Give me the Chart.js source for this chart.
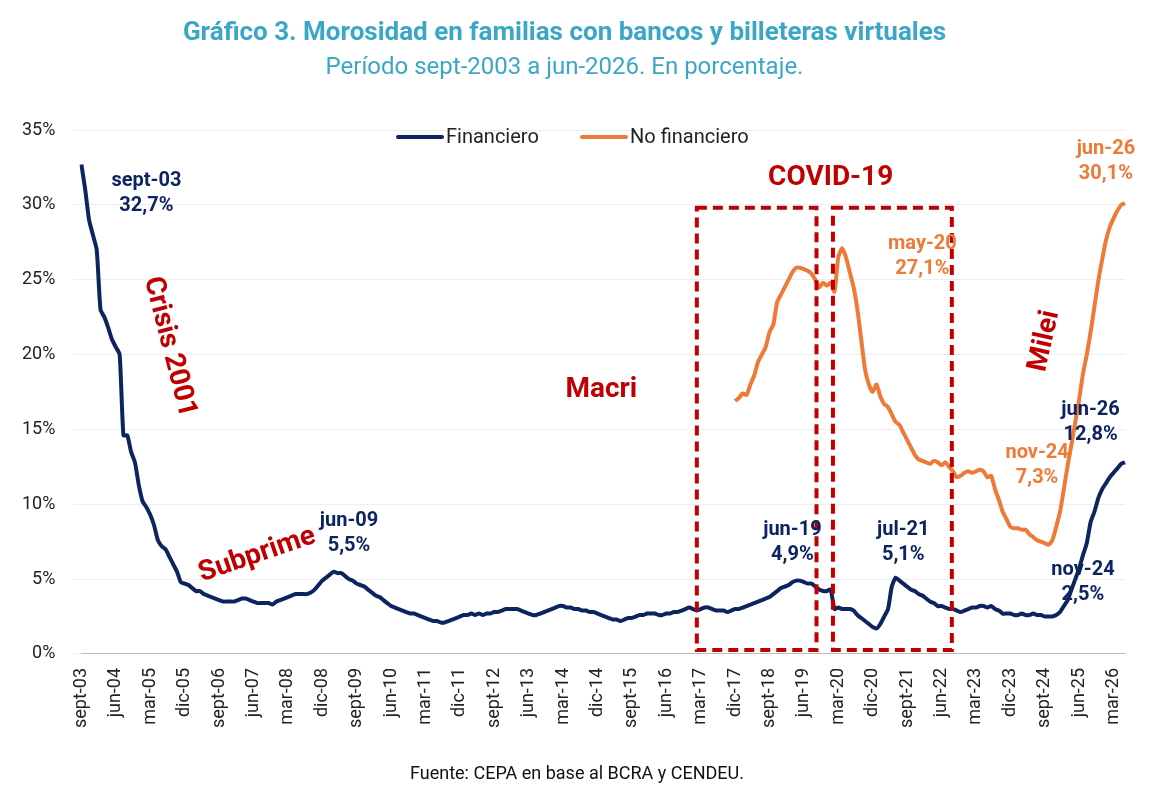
<!DOCTYPE html>
<html><head><meta charset="utf-8">
<script src="https://cdn.jsdelivr.net/npm/chart.js@4"></script>
<style>body{margin:0;background:#fff}#wrap{width:1155px;height:812px}</style>
</head><body><div id="wrap"><canvas id="c"></canvas></div>
<script>
// monthly, sept-2003 .. jun-2026
const meses = ["ene","feb","mar","abr","may","jun","jul","ago","sept","oct","nov","dic"];
const financiero = [
  32.7, 31.0, 29.0, 28.0,
  27.0, 23.0, 22.5, 21.8, 21.0, 20.5, 20.0, 14.6, 14.6, 13.5, 12.8, 11.3,
  10.2, 9.8, 9.3, 8.6, 7.6, 7.2, 7.0, 6.5, 6.0, 5.5, 4.8, 4.7,
  4.6, 4.4, 4.2, 4.2, 4.0, 3.9, 3.8, 3.7, 3.6, 3.5, 3.5, 3.5,
  3.5, 3.6, 3.7, 3.7, 3.6, 3.5, 3.4, 3.4, 3.4, 3.4, 3.3, 3.5,
  3.6, 3.7, 3.8, 3.9, 4.0, 4.0, 4.0, 4.0, 4.1, 4.3, 4.6, 4.9,
  5.1, 5.3, 5.5, 5.4, 5.4, 5.2, 5.0, 4.9, 4.7, 4.6, 4.5, 4.3,
  4.1, 3.9, 3.8, 3.6, 3.4, 3.2, 3.1, 3.0, 2.9, 2.8, 2.7, 2.7,
  2.6, 2.5, 2.4, 2.3, 2.2, 2.2, 2.1, 2.1, 2.2, 2.3, 2.4, 2.5,
  2.6, 2.6, 2.7, 2.6, 2.7, 2.6, 2.7, 2.7, 2.8, 2.8, 2.9, 3.0,
  3.0, 3.0, 3.0, 2.9, 2.8, 2.7, 2.6, 2.6, 2.7, 2.8, 2.9, 3.0,
  3.1, 3.2, 3.2, 3.1, 3.1, 3.0, 3.0, 2.9, 2.9, 2.8, 2.8, 2.7,
  2.6, 2.5, 2.4, 2.3, 2.3, 2.2, 2.3, 2.4, 2.4, 2.5, 2.6, 2.6,
  2.7, 2.7, 2.7, 2.6, 2.6, 2.7, 2.7, 2.8, 2.8, 2.9, 3.0, 3.1,
  3.0, 2.9, 3.0, 3.1, 3.1, 3.0, 2.9, 2.9, 2.9, 2.8, 2.9, 3.0,
  3.0, 3.1, 3.2, 3.3, 3.4, 3.5, 3.6, 3.7, 3.8, 4.0, 4.2, 4.4,
  4.5, 4.6, 4.8, 4.9, 4.9, 4.8, 4.7, 4.7, 4.5, 4.3, 4.2, 4.2,
  4.3, 3.0, 3.1, 3.0, 3.0, 3.0, 2.9, 2.6, 2.4, 2.2, 2.0, 1.8,
  1.7, 2.0, 2.5, 3.0, 4.5, 5.1, 4.9, 4.7, 4.5, 4.3, 4.2, 4.0,
  3.9, 3.7, 3.5, 3.4, 3.2, 3.2, 3.1, 3.0, 3.0, 2.9, 2.8, 2.9,
  3.0, 3.1, 3.1, 3.2, 3.2, 3.1, 3.2, 3.0, 2.9, 2.7, 2.7, 2.7,
  2.6, 2.6, 2.7, 2.6, 2.6, 2.7, 2.6, 2.6, 2.5, 2.5, 2.5, 2.6,
  2.8, 3.2, 3.6, 4.3, 5.0, 5.7, 6.6, 7.4, 8.8, 9.5, 10.4, 11.0,
  11.4, 11.8, 12.1, 12.4, 12.7, 12.8
];
// starts dic-2017
const noFinancieroInicio = 171;
const noFinanciero = [
  16.9,
  17.1, 17.4, 17.3, 18.0, 18.6, 19.5, 20.0, 20.5, 21.5, 22.0, 23.5, 24.0,
  24.5, 25.0, 25.5, 25.8, 25.8, 25.7, 25.6, 25.4, 25.0, 24.5, 24.8, 24.6,
  24.8, 24.2, 26.5, 27.1, 26.5, 25.5, 24.5, 23.0, 21.0, 19.0, 18.0, 17.5,
  18.0, 17.2, 16.7, 16.5, 16.0, 15.5, 15.3, 14.8, 14.3, 13.8, 13.3, 13.0,
  12.9, 12.8, 12.7, 12.9, 12.8, 12.6, 12.8, 12.5, 12.2, 11.8, 11.9, 12.1,
  12.2, 12.1, 12.2, 12.3, 12.2, 11.8, 11.9, 11.0, 10.3, 9.5, 9.0, 8.5,
  8.4, 8.4, 8.3, 8.3, 8.0, 7.8, 7.6, 7.5, 7.4, 7.3, 7.6, 8.5,
  9.5, 11.0, 12.6, 14.0, 15.5, 17.0, 18.7, 20.0, 21.5, 23.2, 24.9, 26.3,
  27.6, 28.5, 29.1, 29.6, 30.0, 30.1
];
const labels = financiero.map((_, i) => {
  const m = (8 + i) % 12, y = 3 + Math.floor((8 + i) / 12);
  return meses[m] + "-" + String(y).padStart(2, "0");
});
const noFin = labels.map((_, i) => i >= noFinancieroInicio ? noFinanciero[i - noFinancieroInicio] : null);

const AZUL = "#0d2461", NARANJA = "#ee7a37", ROJO = "#c00000";
// [index, value, text lines, color]
const notas = [
  [17, 31.6, ["sept-03", "32,7%"], AZUL],
  [70, 8.9, ["jun-09", "5,5%"], AZUL],
  [186, 8.3, ["jun-19", "4,9%"], AZUL],
  [215, 8.3, ["jul-21", "5,1%"], AZUL],
  [262, 5.6, ["nov-24", "2,5%"], AZUL],
  [264, 16.3, ["jun-26", "12,8%"], AZUL],
  [250, 13.4, ["nov-24", "7,3%"], NARANJA],
  [220, 27.4, ["may-20", "27,1%"], NARANJA],
  [268, 33.7, ["jun-26", "30,1%"], NARANJA]
];

const extras = {
  id: "extras",
  afterDatasetsDraw(chart) {
    const { ctx, scales: { x, y } } = chart;
    ctx.save();
    // cajas
    ctx.strokeStyle = ROJO; ctx.lineWidth = 4; ctx.setLineDash([10, 6]);
    [[161, 192.3], [196.6, 227.7]].forEach(([a, b]) => {
      ctx.strokeRect(x.getPixelForValue(a), y.getPixelForValue(29.8), x.getPixelForValue(b) - x.getPixelForValue(a), y.getPixelForValue(0) - y.getPixelForValue(29.8) - 4);
    });
    ctx.setLineDash([]);
    ctx.textAlign = "center"; ctx.textBaseline = "middle";
    ctx.font = "bold 20px Roboto";
    notas.forEach(([i, v, t, c]) => {
      ctx.fillStyle = c;
      ctx.fillText(t[0], x.getPixelForValue(i), y.getPixelForValue(v));
      ctx.fillText(t[1], x.getPixelForValue(i), y.getPixelForValue(v) + 25);
    });
    ctx.fillStyle = ROJO; ctx.font = "bold 28px Roboto";
    ctx.fillText("COVID-19", x.getPixelForValue(196), y.getPixelForValue(31.8));
    ctx.fillText("Macri", x.getPixelForValue(136), y.getPixelForValue(17.6));
    const rot = (txt, i, v, ang) => {
      ctx.save(); ctx.translate(x.getPixelForValue(i), y.getPixelForValue(v));
      ctx.rotate(ang); ctx.fillText(txt, 0, 0); ctx.restore();
    };
    rot("Crisis 2001", 23, 20.5, Math.PI * 0.42);
    rot("Subprime", 46, 6.6, -0.33);
    rot("Milei", 252, 20.9, -Math.PI * 0.43);
    // leyenda
    ctx.textAlign = "left"; ctx.font = "20px Roboto"; ctx.fillStyle = "#222";
    ctx.lineWidth = 4; ctx.lineCap = "round";
    [[398, AZUL, "Financiero"], [582, NARANJA, "No financiero"]].forEach(([lx, c, t]) => {
      ctx.strokeStyle = c; ctx.beginPath(); ctx.moveTo(lx, 137); ctx.lineTo(lx + 44, 137); ctx.stroke();
      ctx.fillText(t, lx + 48, 138);
    });
    // fuente
    ctx.textAlign = "center"; ctx.font = "18px Roboto"; ctx.fillStyle = "#111";
    ctx.fillText("Fuente: CEPA en base al BCRA y CENDEU.", 577, 774);
    ctx.restore();
  }
};

new Chart(document.getElementById("c"), {
  type: "line",
  data: {
    labels,
    datasets: [
      { label: "Financiero", data: financiero, borderColor: AZUL, borderWidth: 4, pointRadius: 0, tension: 0.2 },
      { label: "No financiero", data: noFin, borderColor: NARANJA, borderWidth: 4, pointRadius: 0, tension: 0.2 }
    ]
  },
  options: {
    responsive: true, maintainAspectRatio: false, animation: false,
    layout: { padding: { left: 4, right: 30, top: 14, bottom: 78 } },
    plugins: {
      legend: { display: false }, tooltip: { enabled: false },
      title: { display: true, text: "Gráfico 3. Morosidad en familias con bancos y billeteras virtuales", color: "#3ba7c6", font: { family: "Roboto", size: 26, weight: "bold" }, padding: { top: 4, bottom: 4 } },
      subtitle: { display: true, text: "Período sept-2003 a jun-2026. En porcentaje.", color: "#3ba7c6", font: { family: "Roboto", size: 24 }, padding: { bottom: 48 } }
    },
    scales: {
      x: {
        grid: { display: false }, border: { color: "#bbb" },
        ticks: { autoSkip: false, maxRotation: 90, minRotation: 90, padding: 6, color: "#222", font: { family: "Roboto", size: 18 },
          callback: (v, i) => i % 9 === 0 ? labels[i] : "" }
      },
      y: {
        min: 0, max: 35, grid: { color: "#eee" }, border: { display: false },
        ticks: { stepSize: 5, padding: 18, color: "#222", font: { family: "Roboto", size: 18 }, callback: v => v + "%" }
      }
    }
  },
  plugins: [extras]
});
</script></body></html>
